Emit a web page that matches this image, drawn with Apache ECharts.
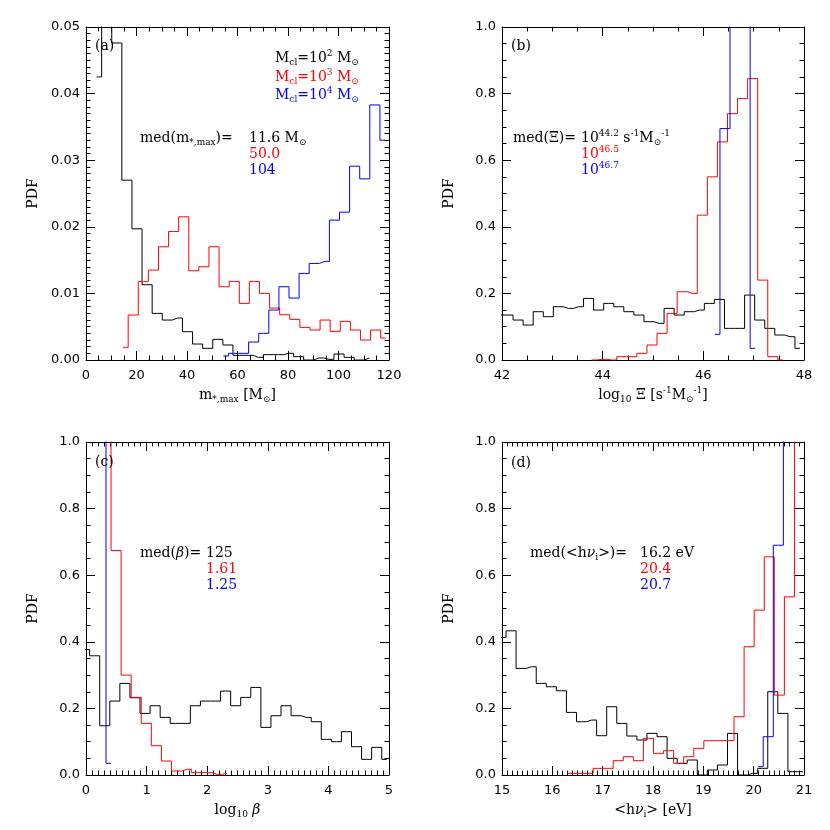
<!DOCTYPE html>
<html>
<head>
<meta charset="utf-8">
<title>PDF panels</title>
<script src="https://cdn.jsdelivr.net/npm/echarts@6/dist/echarts.min.js"></script>
<style>
html,body{margin:0;padding:0;background:#fff;}
#wrap{position:relative;width:830px;height:830px;}
#main{position:absolute;left:0;top:0;width:830px;height:830px;}
.note{position:absolute;font-family:"DejaVu Serif";font-size:14px;line-height:20px;white-space:nowrap;z-index:5;}
.note sub,.note sup{font-size:9px;line-height:0;}
.note sub{vertical-align:-3px;}
.note sup{vertical-align:6px;}
.note i{font-style:italic;}
.xname{transform:translateX(-50%);}
</style>
</head>
<body>
<div id="wrap"><div id="main"></div></div>
<script>
// histogram bins: first bin centre, bin width, values (off-scale bins just above the top)
// (a) m*,max
var aBin = 4;
var aBlackStart = 4.2;
var aBlack = [0.0425, 0.065, 0.0476, 0.027, 0.0197, 0.0113, 0.007, 0.006, 0.0063, 0.00425, 0.0024, 0.00175, 0.0031, 0.00225,
  0.0007, 0.0007, 0.0004, 0.0008, 0.0008, 0.001, 0.0005, 0, 0.0003, 0.0001, 0.0009, 0.0004, 0, 0.0003];
var aRedStart = 14.7;
var aRed = [0.0019, 0.00675, 0.0118, 0.0135, 0.017, 0.0193, 0.0215, 0.0134, 0.014, 0.017, 0.011, 0.0118, 0.0085, 0.0118,
  0.01, 0.0078, 0.0068, 0.0061, 0.0049, 0.0045, 0.006, 0.0043, 0.0058, 0.0045, 0.003, 0.0045, 0.0033];
var aBlueStart = 54.4;
var aBlue = [0.0006, 0.001, 0.001, 0.0027, 0.004, 0.0075, 0.011, 0.0093, 0.013, 0.0145, 0.0148, 0.021, 0.0222, 0.0291,
  0.0272, 0.0383, 0.033];

// (b) log10 Xi
var bBin = 0.2;
var bBlackStart = 41.92;
var bBlack = [0.135, 0.135, 0.12, 0.105, 0.145, 0.13, 0.16, 0.155, 0.16, 0.185, 0.15, 0.17, 0.16, 0.145, 0.135, 0.115,
  0.11, 0.155, 0.135, 0.145, 0.15, 0.17, 0.182, 0.095, 0.095, 0.195, 0.12, 0.095, 0.075, 0.07, 0.035];
var bRedStart = 43.78;
var bRed = [0, 0.002, 0, 0.01, 0.01, 0.02, 0.045, 0.08, 0.14, 0.205, 0.2, 0.435, 0.55, 0.655, 0.74, 0.785, 0.845, 0.24, 0.01, 0];
var bBlueStart = 46.23;
var bBlue = [0.077, 0.695, 1.25, 1.25, 0.035];

// (c) log10 beta
var cBin = 0.1662;
var cBlackStart = -0.023;
var cBlack = [0.377, 0.358, 0.148, 0.222, 0.275, 0.232, 0.185, 0.208, 0.173, 0.155, 0.155, 0.208, 0.222, 0.222, 0.252,
  0.208, 0.233, 0.263, 0.143, 0.178, 0.208, 0.178, 0.173, 0.16, 0.107, 0.1, 0.13, 0.085, 0.047, 0.083, 0.047];
var cRedStart = 0.33;
var cRed = [1.25, 0.674, 0.3, 0.233, 0.155, 0.088, 0.042, 0.012, 0.017, 0.007, 0.007, 0.002, 0.005];
var cBlueStart = 0.247;
var cBlue = [1.25, 0.035];

// (d) <h nu_i>
var dBin = 0.2;
var dBlackStart = 14.98;
var dBlack = [0.413, 0.433, 0.32, 0.325, 0.275, 0.265, 0.253, 0.188, 0.16, 0.165, 0.118, 0.205, 0.155, 0.117, 0.105,
  0.125, 0.115, 0.05, 0.035, 0.045, 0, 0.015, 0.03, 0.125, 0, 0.005, 0.02, 0.25, 0.185, 0.01, 0.01];
var dRedStart = 16.31;
var dRed = [0.005, 0.005, 0.005, 0.02, 0.02, 0.043, 0.055, 0.043, 0.11, 0.065, 0.073, 0.035, 0.055, 0.08, 0.103, 0.103,
  0.103, 0.175, 0.385, 0.495, 0.655, 0.24, 0.535, 1.25];
var dBlueStart = 20.09;
var dBlue = [0.025, 0.115, 0.69, 1.25];

// axis ranges: min, max, major step, minor divisions
var xRanges = [[0, 120, 20, 4], [42, 48, 2, 4], [0, 5, 1, 10], [15, 21, 1, 10]];
var yRanges = [[0, 0.05, 0.01, 10], [0, 1, 0.2, 4], [0, 1, 0.2, 4], [0, 1, 0.2, 4]];
var yDigits = [2, 1, 1, 1];
var xNames = [
  'm<sub>*,max</sub> [M<sub>⊙</sub>]',
  'log<sub>10</sub> Ξ [s<sup>-1</sup>M<sub>⊙</sub><sup>-1</sup>]',
  'log<sub>10</sub> <i>β</i>',
  '&lt;h<i>ν</i><sub>i</sub>&gt; [eV]'
];

var SERIF = 'DejaVu Serif';
var SANS = 'DejaVu Sans';

function hist(start, width, vals) {
  return vals.map(function (v, i) { return [start + i * width, v]; });
}

function blackLine() { return {color: '#000', width: 1}; }

var panels = [
  {left: 86, top: 27, width: 303, height: 333},
  {left: 502, top: 27, width: 302, height: 333},
  {left: 86, top: 442, width: 303, height: 333},
  {left: 502, top: 442, width: 302, height: 333}
];
var panelData = [
  [[aBlackStart, aBin, aBlack], [aRedStart, aBin, aRed], [aBlueStart, aBin, aBlue]],
  [[bBlackStart, bBin, bBlack], [bRedStart, bBin, bRed], [bBlueStart, bBin, bBlue]],
  [[cBlackStart, cBin, cBlack], [cRedStart, cBin, cRed], [cBlueStart, cBin, cBlue]],
  [[dBlackStart, dBin, dBlack], [dRedStart, dBin, dRed], [dBlueStart, dBin, dBlue]]
];
var colors = ['#000', '#ff0000', '#0000ff'];

// one grid per curve, stacked on the same rectangle; only the first layer shows its axes
var grids = [], xAxes = [], yAxes = [], series = [];
panels.forEach(function (rect, p) {
  var xr = xRanges[p], yr = yRanges[p], d = yDigits[p];
  colors.forEach(function (color, layer) {
    var gi = grids.length;
    grids.push({left: rect.left, top: rect.top, width: rect.width, height: rect.height});
    var xi = xAxes.length, yi = yAxes.length;
    if (layer === 0) {
      [0, 1].forEach(function (k) {
        xAxes.push({
          type: 'value', gridIndex: gi, position: k ? 'top' : 'bottom',
          min: xr[0], max: xr[1], interval: xr[2],
          axisLine: {show: true, onZero: false, lineStyle: blackLine()},
          axisTick: {show: true, inside: true, length: 9, lineStyle: blackLine()},
          minorTick: {show: true, splitNumber: xr[3], length: 4.5, lineStyle: blackLine()},
          splitLine: {show: false},
          axisLabel: {show: !k, color: '#000', fontFamily: SANS, fontSize: 13, margin: 9}
        });
        yAxes.push({
          type: 'value', gridIndex: gi, position: k ? 'right' : 'left',
          min: yr[0], max: yr[1], interval: yr[2],
          axisLine: {show: true, onZero: false, lineStyle: blackLine()},
          axisTick: {show: true, inside: true, length: 9, lineStyle: blackLine()},
          minorTick: {show: true, splitNumber: yr[3], length: 4.5, lineStyle: blackLine()},
          splitLine: {show: false},
          axisLabel: {show: !k, color: '#000', fontFamily: SANS, fontSize: 13, margin: 6,
            formatter: function (v) { return v.toFixed(d); }},
          name: k ? '' : 'PDF', nameLocation: 'middle', nameGap: 46,
          nameTextStyle: {color: '#000', fontFamily: SERIF, fontSize: 14}
        });
      });
    } else {
      xAxes.push({type: 'value', gridIndex: gi, min: xr[0], max: xr[1], interval: xr[2], show: false});
      yAxes.push({type: 'value', gridIndex: gi, min: yr[0], max: yr[1], interval: yr[2], show: false});
    }
    var h = panelData[p][layer];
    series.push({
      type: 'line', xAxisIndex: xi, yAxisIndex: yi, data: hist(h[0], h[1], h[2]),
      step: 'middle', symbol: 'none', showSymbol: false, silent: true,
      lineStyle: {color: color, width: 1}, itemStyle: {color: color}
    });
  });
});

var chart = echarts.init(document.getElementById('main'));
chart.setOption({
  animation: false,
  grid: grids,
  xAxis: xAxes,
  yAxis: yAxes,
  series: series
});

// text annotations (x = left edge, y = vertical centre), laid over the chart as real text
var notes = [
  [95, 45, '(a)', '#000'],
  [275, 57, 'M<sub>cl</sub>=10<sup>2</sup> M<sub>⊙</sub>', '#000'],
  [275, 76, 'M<sub>cl</sub>=10<sup>3</sup> M<sub>⊙</sub>', '#ff0000'],
  [275, 94, 'M<sub>cl</sub>=10<sup>4</sup> M<sub>⊙</sub>', '#0000ff'],
  [140, 137, 'med(m<sub>*,max</sub>)=', '#000'],
  [249, 137, '11.6 M<sub>⊙</sub>', '#000'],
  [249, 153, '50.0', '#ff0000'],
  [249, 169, '104', '#0000ff'],
  [511, 45, '(b)', '#000'],
  [513, 137, 'med(Ξ)=', '#000'],
  [581, 137, '10<sup>44.2</sup> s<sup>-1</sup>M<sub>⊙</sub><sup>-1</sup>', '#000'],
  [581, 153, '10<sup>46.5</sup>', '#ff0000'],
  [581, 169, '10<sup>46.7</sup>', '#0000ff'],
  [95, 461, '(c)', '#000'],
  [140, 552, 'med(<i>β</i>)=', '#000'],
  [206, 552, '125', '#000'],
  [206, 568, '1.61', '#ff0000'],
  [206, 584, '1.25', '#0000ff'],
  [511, 462, '(d)', '#000'],
  [530, 552, 'med(&lt;h<i>ν</i><sub>i</sub>&gt;)=', '#000'],
  [640, 552, '16.2 eV', '#000'],
  [640, 568, '20.4', '#ff0000'],
  [640, 584, '20.7', '#0000ff']
];
var wrap = document.getElementById('wrap');
notes.forEach(function (n) {
  var el = document.createElement('div');
  el.className = 'note';
  el.style.left = n[0] + 'px';
  el.style.top = (n[1] - 10) + 'px';
  el.style.color = n[3];
  el.innerHTML = n[2];
  wrap.appendChild(el);
});
// x-axis titles, centred under each panel
panels.forEach(function (rect, p) {
  var el = document.createElement('div');
  el.className = 'note xname';
  el.style.left = (rect.left + rect.width / 2) + 'px';
  el.style.top = (rect.top + rect.height + 24) + 'px';
  el.style.color = '#000';
  el.innerHTML = xNames[p];
  wrap.appendChild(el);
});
</script>
</body>
</html>
